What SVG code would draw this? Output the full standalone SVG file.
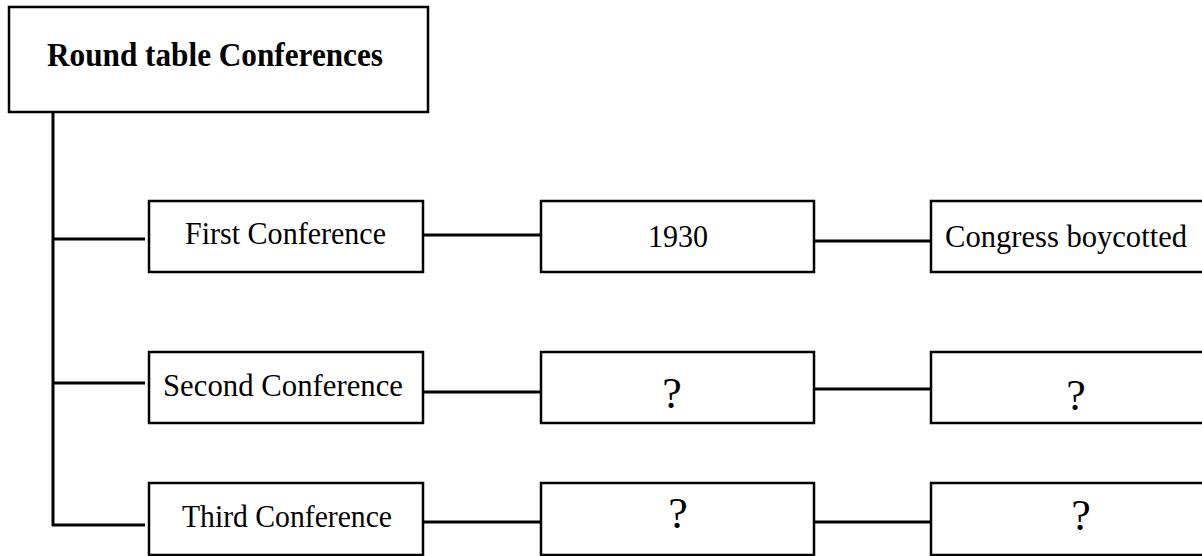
<svg xmlns="http://www.w3.org/2000/svg" width="1202" height="556" viewBox="0 0 1202 556">
<style>
.box{fill:#fff;stroke:#000;stroke-width:2.5}
.ln{stroke:#000;stroke-width:3;fill:none}
.t{font-family:"Liberation Serif","Times New Roman",serif;font-size:32px;fill:#000}
.q{font-family:"Liberation Serif","Times New Roman",serif;font-size:44px;fill:#000}
.title{font-family:"Liberation Serif","Times New Roman",serif;font-size:33px;font-weight:bold;fill:#000}
</style>
<g id="connectors">
<path class="ln" d="M53,113 V526 M52,239 H145 M52,383 H145 M52,525 H145"/>
<path class="ln" d="M423,235 H541 M814,241 H931"/>
<path class="ln" d="M423,392 H541 M814,389 H931"/>
<path class="ln" d="M423,522 H541 M814,522 H931"/>
</g>
<g id="title">
<rect class="box" x="9" y="7" width="419" height="105"/>
<text class="title" x="47" y="66" textLength="336" lengthAdjust="spacingAndGlyphs">Round table Conferences</text>
</g>
<g id="first">
<rect class="box" x="149" y="201" width="274" height="71"/>
<text class="t" x="185" y="244" textLength="201" lengthAdjust="spacingAndGlyphs">First Conference</text>
</g>
<g id="first-year">
<rect class="box" x="541" y="201" width="273" height="71"/>
<text class="t" x="648" y="247" textLength="60" lengthAdjust="spacingAndGlyphs">1930</text>
</g>
<g id="first-note">
<rect class="box" x="931" y="201" width="290" height="71"/>
<text class="t" x="945" y="247" textLength="242" lengthAdjust="spacingAndGlyphs">Congress boycotted</text>
</g>
<g id="second">
<rect class="box" x="149" y="352" width="274" height="71"/>
<text class="t" x="163" y="396" textLength="240" lengthAdjust="spacingAndGlyphs">Second Conference</text>
</g>
<g id="second-year">
<rect class="box" x="541" y="352" width="273" height="71"/>
<text class="q" x="672" y="408" text-anchor="middle">?</text>
</g>
<g id="second-note">
<rect class="box" x="931" y="352" width="290" height="71"/>
<text class="q" x="1076" y="410" text-anchor="middle">?</text>
</g>
<g id="third">
<rect class="box" x="149" y="483" width="274" height="72"/>
<text class="t" x="182" y="527" textLength="210" lengthAdjust="spacingAndGlyphs">Third Conference</text>
</g>
<g id="third-year">
<rect class="box" x="541" y="483" width="273" height="72"/>
<text class="q" x="678" y="528" text-anchor="middle">?</text>
</g>
<g id="third-note">
<rect class="box" x="931" y="483" width="290" height="72"/>
<text class="q" x="1081" y="530" text-anchor="middle">?</text>
</g>
</svg>
